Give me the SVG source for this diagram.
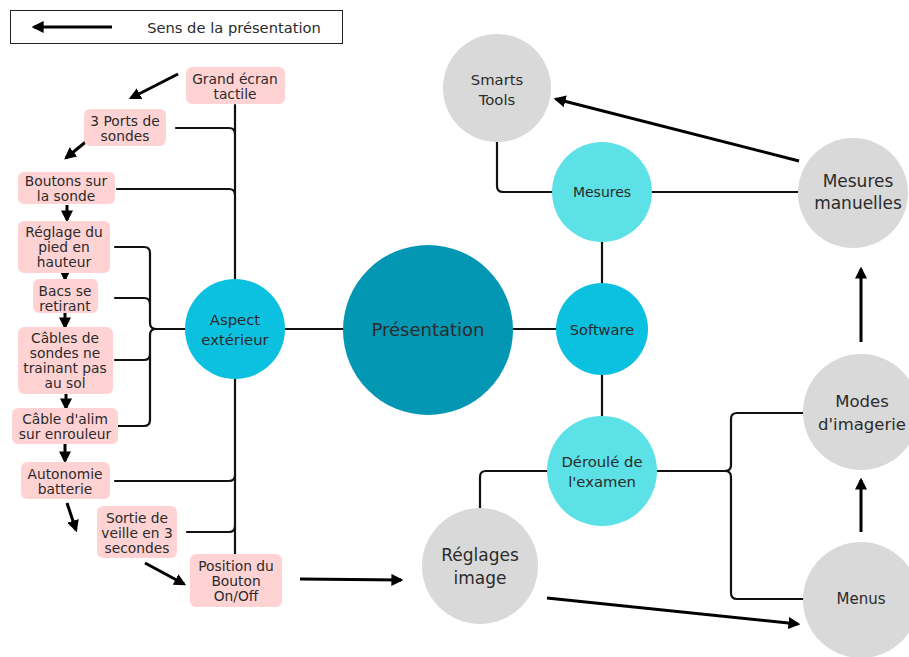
<svg xmlns="http://www.w3.org/2000/svg" width="909" height="657" viewBox="0 0 909 657">
<defs>
<marker id="ah" viewBox="0 0 10 10" refX="8" refY="5" markerWidth="4" markerHeight="4" orient="auto" markerUnits="strokeWidth">
<path d="M0,0 L10,5 L0,10 Z" fill="#000"/>
</marker>
<style>
text{font-family:"DejaVu Sans","Open Sans",sans-serif;fill:#2b2b2b;text-anchor:middle;dominant-baseline:central}
.lbl{font-size:13.8px}
.pk{fill:#ffd3d3}
.ln{fill:none;stroke:#111;stroke-width:2.2;stroke-linecap:round;stroke-linejoin:round}
.ar{fill:none;stroke:#000;stroke-width:3;marker-end:url(#ah)}
.gray{fill:#d9d9d9}
.c1{fill:#0cc0df}
.c2{fill:#5ce1e6}
</style>
</defs>
<rect width="909" height="657" fill="#fff"/>

<g id="legend">
<rect x="10.5" y="10.5" width="332" height="33" fill="#fff" stroke="#222" stroke-width="1"/>
<line x1="112" y1="27" x2="34" y2="27" class="ar"/>
<text x="234" y="27" font-size="14.7">Sens de la présentation</text>
</g>

<g id="connectors">
<path class="ln" d="M235,105 V279"/>
<path class="ln" d="M235,379 V554"/>
<path class="ln" d="M176,128 H229 Q235,128 235,134"/>
<path class="ln" d="M117,189 H229 Q235,189 235,195"/>
<path class="ln" d="M115,481 H229 Q235,481 235,475"/>
<path class="ln" d="M187,532 H229 Q235,532 235,526"/>
<path class="ln" d="M115,247 H144 Q150,247 150,253 V323 Q150,329 156,329 H185"/>
<path class="ln" d="M115,298 H144 Q150,298 150,304"/>
<path class="ln" d="M115,360 H144 Q150,360 150,354 V335 Q150,329 156,329"/>
<path class="ln" d="M118,426 H144 Q150,426 150,420 V354"/>
<path class="ln" d="M285,329 H343"/>
<path class="ln" d="M513,329 H556"/>
<path class="ln" d="M602,242 V283"/>
<path class="ln" d="M602,375 V416"/>
<path class="ln" d="M552,192 H503 Q497,192 497,186 V142"/>
<path class="ln" d="M652,192 H798"/>
<path class="ln" d="M547,471 H486 Q480,471 480,477 V509"/>
<path class="ln" d="M657,471 H725 Q731,471 731,465 V419 Q731,413 737,413 H803"/>
<path class="ln" d="M725,471 Q731,471 731,477 V593 Q731,599 737,599 H803"/>
<line class="ar" x1="178" y1="74" x2="131" y2="98"/>
<line class="ar" x1="88" y1="140" x2="66" y2="158"/>
<line class="ar" x1="67" y1="205" x2="67" y2="220"/>
<line class="ar" x1="65" y1="273" x2="65" y2="279"/>
<line class="ar" x1="65" y1="313" x2="65" y2="327"/>
<line class="ar" x1="66" y1="394" x2="66" y2="408"/>
<line class="ar" x1="65" y1="444" x2="65" y2="461"/>
<line class="ar" x1="67" y1="503" x2="76" y2="530"/>
<line class="ar" x1="145" y1="563" x2="184" y2="584"/>
<line class="ar" x1="300" y1="579" x2="401" y2="580"/>
<line class="ar" x1="799" y1="161" x2="556" y2="99"/>
<line class="ar" x1="861" y1="342" x2="861" y2="269"/>
<line class="ar" x1="861" y1="532" x2="861" y2="480"/>
<line class="ar" x1="547" y1="598" x2="798" y2="624"/>
</g>

<g id="n-presentation"><circle cx="428" cy="330" r="85" fill="#0397b4"/><text x="428" y="329" font-size="18">Présentation</text></g>
<g id="n-aspect"><circle cx="235" cy="329" r="50" class="c1"/><text x="235" y="319" font-size="14.8">Aspect<tspan x="235" dy="20">extérieur</tspan></text></g>
<g id="n-software"><circle cx="602" cy="329" r="46" class="c1"/><text x="602" y="329" font-size="14.6">Software</text></g>
<g id="n-mesures"><circle cx="602" cy="192" r="50" class="c2"/><text x="602" y="192" font-size="14">Mesures</text></g>
<g id="n-deroule"><circle cx="602" cy="471" r="55" class="c2"/><text x="602" y="461" font-size="14.8">Déroulé de<tspan x="602" dy="20">l'examen</tspan></text></g>
<g id="n-smarts"><circle cx="497" cy="88" r="54" class="gray"/><text x="497" y="79" font-size="14.8">Smarts<tspan x="497" dy="20">Tools</tspan></text></g>
<g id="n-mesman"><circle cx="853" cy="193" r="55" class="gray"/><text x="858" y="181" font-size="17">Mesures<tspan x="858" dy="22">manuelles</tspan></text></g>
<g id="n-modes"><circle cx="861" cy="412" r="58" class="gray"/><text x="862" y="401" font-size="16.5">Modes<tspan x="862" dy="23">d'imagerie</tspan></text></g>
<g id="n-menus"><circle cx="861" cy="600" r="58" class="gray"/><text x="861" y="599" font-size="15">Menus</text></g>
<g id="n-reglages"><circle cx="480" cy="566" r="58" class="gray"/><text x="480" y="555" font-size="17">Réglages<tspan x="480" dy="23">image</tspan></text></g>

<g id="l-grand"><rect x="186" y="67" width="99" height="37" rx="6" class="pk"/><text class="lbl" x="235" y="78.5">Grand écran<tspan x="235" dy="15">tactile</tspan></text></g>
<g id="l-ports"><rect x="84" y="109" width="82" height="37" rx="6" class="pk"/><text class="lbl" x="125" y="120.5">3 Ports de<tspan x="125" dy="15">sondes</tspan></text></g>
<g id="l-boutons"><rect x="18" y="172" width="97" height="32" rx="6" class="pk"/><text class="lbl" x="66" y="181">Boutons sur<tspan x="66" dy="15">la sonde</tspan></text></g>
<g id="l-reglage"><rect x="18" y="221" width="92" height="52" rx="6" class="pk"/><text class="lbl" x="64" y="232">Réglage du<tspan x="64" dy="15">pied en</tspan><tspan x="64" dy="15">hauteur</tspan></text></g>
<g id="l-bacs"><rect x="33" y="279" width="65" height="34" rx="6" class="pk"/><text class="lbl" x="65" y="291">Bacs se<tspan x="65" dy="15">retirant</tspan></text></g>
<g id="l-cables"><rect x="18" y="327" width="95" height="67" rx="6" class="pk"/><text class="lbl" x="65" y="338">Câbles de<tspan x="65" dy="15">sondes ne</tspan><tspan x="65" dy="15">trainant pas</tspan><tspan x="65" dy="15">au sol</tspan></text></g>
<g id="l-alim"><rect x="12" y="408" width="106" height="36" rx="6" class="pk"/><text class="lbl" x="65" y="419">Câble d'alim<tspan x="65" dy="15">sur enrouleur</tspan></text></g>
<g id="l-autonomie"><rect x="21" y="462" width="89" height="37" rx="6" class="pk"/><text class="lbl" x="65" y="473.5">Autonomie<tspan x="65" dy="15">batterie</tspan></text></g>
<g id="l-sortie"><rect x="97" y="506" width="80" height="52" rx="6" class="pk"/><text class="lbl" x="137" y="517.5">Sortie de<tspan x="137" dy="15">veille en 3</tspan><tspan x="137" dy="15">secondes</tspan></text></g>
<g id="l-position"><rect x="190" y="554" width="92" height="53" rx="6" class="pk"/><text class="lbl" x="236" y="565.5">Position du<tspan x="236" dy="15">Bouton</tspan><tspan x="236" dy="15">On/Off</tspan></text></g>
</svg>
